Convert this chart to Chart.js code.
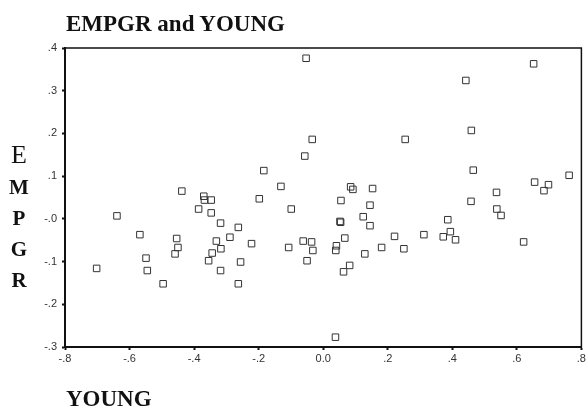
<!DOCTYPE html>
<html>
<head>
<meta charset="utf-8">
<script src="https://cdn.jsdelivr.net/npm/chart.js@4"></script>
<style>
  body { margin: 0; background: #fff; }
  #wrap { position: relative; width: 587px; height: 417px; }
  .lbl { position: absolute; font-family: "Liberation Serif", serif; color: #111; line-height: 1; white-space: nowrap; }
  #title { left: 66px; top: 12px; font-size: 23px; font-weight: bold; }
  #xname { left: 66px; top: 387px; font-size: 23px; font-weight: bold; }
  #yname { left: 4px; top: 139px; width: 30px; text-align: center; font-size: 21px; font-weight: bold; line-height: 31px; }
  #yname .big { font-size: 26px; font-weight: normal; }
</style>
</head>
<body>
<div id="wrap">
  <canvas id="scatter" width="587" height="417"></canvas>
  <div class="lbl" id="title">EMPGR and YOUNG</div>
  <div class="lbl" id="yname"><span class="big">E</span><br>M<br>P<br>G<br>R</div>
  <div class="lbl" id="xname">YOUNG</div>
</div>
<script>
// YOUNG (x) and EMPGR (y)
const young = [
  -0.053, -0.034, -0.057, -0.184, -0.131, -0.438, 0.652, 0.442, 0.254, 0.459,
  0.465, 0.762, 0.655, 0.698, 0.085, 0.092, 0.153, 0.684, 0.537, -0.370,
  -0.368, -0.347, -0.198, -0.386, -0.347, -0.099, -0.639, -0.318, -0.263, -0.568,
  -0.289, -0.454, -0.331, -0.222, -0.062, -0.036, -0.450, -0.317, -0.107, -0.032,
  -0.459, -0.344, -0.549, -0.355, -0.256, -0.050, -0.702, -0.545, -0.318, -0.496,
  -0.263, 0.055, 0.458, 0.145, 0.538, 0.551, 0.124, 0.052, 0.054, 0.386,
  0.145, 0.394, 0.067, 0.221, 0.312, 0.372, 0.410, 0.621, 0.041, 0.039,
  0.129, 0.181, 0.250, 0.082, 0.063, 0.038
];
const empgr = [
  0.376, 0.186, 0.147, 0.113, 0.076, 0.065, 0.363, 0.324, 0.186, 0.207,
  0.114, 0.102, 0.086, 0.080, 0.075, 0.069, 0.071, 0.066, 0.062, 0.053,
  0.044, 0.044, 0.047, 0.023, 0.014, 0.023, 0.007, -0.010, -0.020, -0.037,
  -0.043, -0.046, -0.052, -0.058, -0.052, -0.054, -0.067, -0.070, -0.067, -0.074,
  -0.082, -0.080, -0.092, -0.098, -0.101, -0.098, -0.116, -0.121, -0.121, -0.152,
  -0.152, 0.043, 0.041, 0.032, 0.023, 0.008, 0.005, -0.006, -0.008, -0.002,
  -0.016, -0.030, -0.045, -0.041, -0.037, -0.042, -0.049, -0.054, -0.063, -0.074,
  -0.082, -0.067, -0.070, -0.109, -0.124, -0.277
];
const xTicks = ['-.8', '-.6', '-.4', '-.2', '0.0', '.2', '.4', '.6', '.8'];
const yTicks = ['-.3', '-.2', '-.1', '-.0', '.1', '.2', '.3', '.4'];

const points = young.map((x, i) => ({ x: x, y: empgr[i] }));

// frame around the plot (Chart.js only draws left/bottom borders)
const frame = {
  id: 'frame',
  afterDraw(chart) {
    const a = chart.chartArea, ctx = chart.ctx;
    ctx.save();
    ctx.strokeStyle = '#111';
    ctx.lineWidth = 1.5;
    ctx.strokeRect(a.left, a.top, a.right - a.left, a.bottom - a.top);
    ctx.restore();
  }
};

const tickFont = { family: '"Liberation Sans", Arial, sans-serif', size: 11 };

new Chart(document.getElementById('scatter'), {
  type: 'scatter',
  data: {
    datasets: [{
      data: points,
      pointStyle: 'rect',
      pointRadius: 4.6,
      pointHoverRadius: 4.6,
      borderWidth: 1,
      borderColor: '#333',
      backgroundColor: 'rgba(255,255,255,0)'
    }]
  },
  options: {
    responsive: false,
    animation: false,
    layout: { padding: { left: 0, top: 48, right: 4, bottom: 0 } },
    plugins: { legend: { display: false }, tooltip: { enabled: false } },
    scales: {
      x: {
        min: -0.8, max: 0.8,
        ticks: {
          stepSize: 0.2,
          autoSkip: false,
          maxRotation: 0,
          padding: 2,
          color: '#333',
          font: tickFont,
          callback: (v) => xTicks[Math.round((v + 0.8) / 0.2)]
        },
        grid: { drawOnChartArea: false, tickLength: 3, tickWidth: 2, tickColor: '#111' },
        border: { color: '#111', width: 2 },
        afterFit: (s) => { s.height = 70; s.paddingLeft = 0; s.paddingRight = 0; }
      },
      y: {
        min: -0.3, max: 0.4,
        ticks: {
          stepSize: 0.1,
          padding: 5,
          color: '#333',
          font: tickFont,
          callback: (v) => yTicks[Math.round((v + 0.3) / 0.1)]
        },
        grid: { drawOnChartArea: false, tickLength: 3, tickWidth: 2, tickColor: '#111' },
        border: { color: '#111', width: 2 },
        afterFit: (s) => { s.width = 65; s.paddingTop = 0; s.paddingBottom = 0; }
      }
    }
  },
  plugins: [frame]
});
</script>
</body>
</html>
